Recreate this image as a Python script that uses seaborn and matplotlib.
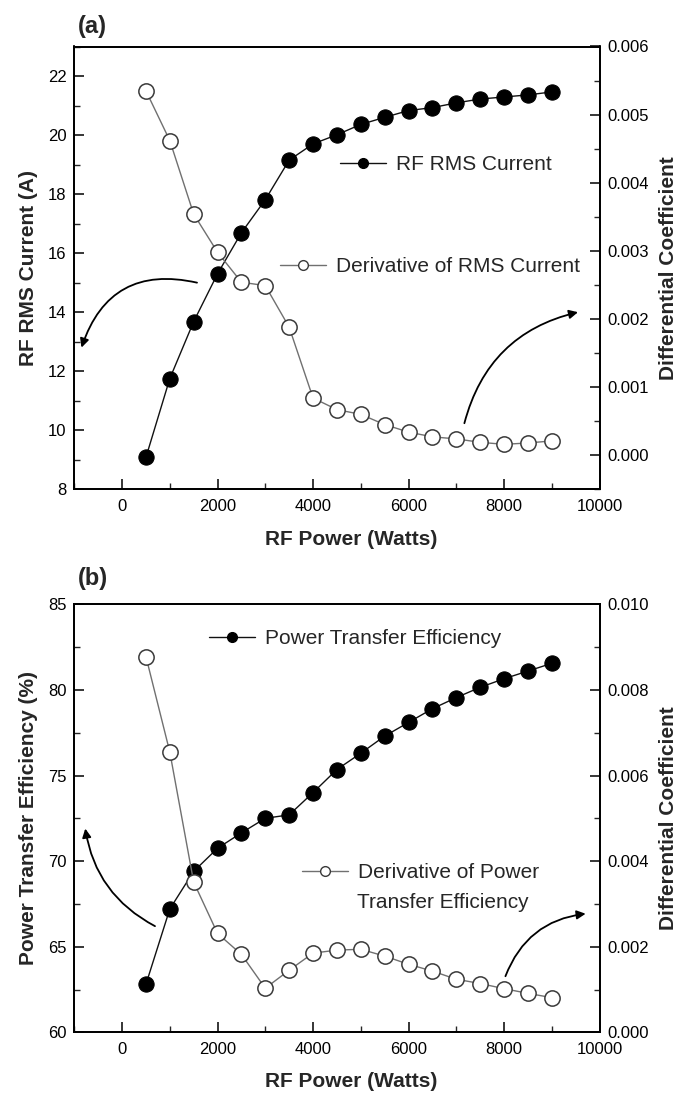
import matplotlib
matplotlib.use("Agg")
import matplotlib.pyplot as plt
from matplotlib.lines import Line2D
from matplotlib.ticker import MultipleLocator, FormatStrFormatter
import seaborn as sns

# ---------------- data ----------------
power = [500, 1000, 1500, 2000, 2500, 3000, 3500, 4000, 4500, 5000,
         5500, 6000, 6500, 7000, 7500, 8000, 8500, 9000]

rms_current = [9.08, 11.75, 13.68, 15.30, 16.69, 17.81, 19.15, 19.70, 20.01, 20.36,
               20.60, 20.83, 20.93, 21.09, 21.22, 21.29, 21.36, 21.46]
rms_derivative = [0.00535, 0.00462, 0.00354, 0.00298, 0.00254, 0.00249, 0.00188, 0.00084,
                  0.00067, 0.00060, 0.00045, 0.00034, 0.00027, 0.00024, 0.00019, 0.00016,
                  0.00018, 0.00021]

pte = [62.8, 67.2, 69.4, 70.75, 71.65, 72.5, 72.7, 74.0, 75.35, 76.3,
       77.3, 78.1, 78.9, 79.55, 80.15, 80.65, 81.1, 81.55]
pte_derivative = [0.00878, 0.00655, 0.00351, 0.00231, 0.00182, 0.00103, 0.00145, 0.00185,
                  0.00192, 0.00194, 0.00178, 0.00159, 0.00143, 0.00124, 0.00114, 0.00102,
                  0.00091, 0.00081]

# ---------------- style ----------------
sns.set_style("ticks")
plt.rcParams['font.family'] = ['Liberation Sans', 'DejaVu Sans']
plt.rcParams['xtick.direction'] = 'in'
plt.rcParams['ytick.direction'] = 'in'

TICK_FS = 12
LAB_FS = 15
LEG_FS = 15

fig = plt.figure(figsize=(6.93, 10.94), dpi=100)
W, H = 693.0, 1094.0


def axes_px(left, top, right, bottom):
    return fig.add_axes([left / W, 1 - bottom / H, (right - left) / W, (bottom - top) / H])


ax_a = axes_px(74.3, 46.5, 599.5, 489.3)
ax_b = axes_px(74.3, 604.3, 599.5, 1032.3)

filled_kw = dict(color='#111111', marker='o', markersize=11, markerfacecolor='black',
                 markeredgecolor='black', linewidth=1.0)
open_kw = dict(color='#707070', marker='o', markersize=11, markerfacecolor='white',
               markeredgecolor='#3a3a3a', markeredgewidth=1.1, linewidth=1.0)


def style_axes(ax, twin, ylim, ymaj, ymin, tylim, tymaj, tymin, ylabel):
    ax.set_xlim(-1000, 10000)
    ax.xaxis.set_major_locator(MultipleLocator(2000))
    ax.xaxis.set_minor_locator(MultipleLocator(1000))
    ax.set_ylim(*ylim)
    ax.yaxis.set_major_locator(MultipleLocator(ymaj))
    ax.yaxis.set_minor_locator(MultipleLocator(ymin))
    twin.set_ylim(*tylim)
    twin.yaxis.set_major_locator(MultipleLocator(tymaj))
    twin.yaxis.set_minor_locator(MultipleLocator(tymin))
    twin.yaxis.set_major_formatter(FormatStrFormatter('%.3f'))
    for a in (ax, twin):
        for s in a.spines.values():
            s.set_visible(True)
            s.set_linewidth(1.3)
            s.set_color('black')
        a.tick_params(which='major', length=7, width=1.1, labelsize=TICK_FS, colors='black')
        a.tick_params(which='minor', length=4, width=1.0)
    ax.tick_params(axis='x', top=False, which='both', pad=7)
    ax.tick_params(axis='y', right=False, which='both', pad=5.5)
    twin.tick_params(axis='y', left=False, right=True, which='both', pad=6)
    ax.set_xlabel('RF Power (Watts)', fontsize=LAB_FS, fontweight='bold')
    ax.set_ylabel(ylabel, fontsize=LAB_FS, fontweight='bold')
    twin.set_ylabel('Differential Coefficient', fontsize=LAB_FS, fontweight='bold')
    ax.xaxis.set_label_coords(0.527, -0.093)
    ax.yaxis.set_label_coords(-0.07, 0.5)
    twin.yaxis.set_label_coords(1.113, 0.5)


arrow_kw = dict(arrowstyle='-|>', color='black', lw=1.3, mutation_scale=13,
                shrinkA=0, shrinkB=0)

# ---------------- panel (a) ----------------
sns.lineplot(x=power, y=rms_current, ax=ax_a, **filled_kw)
tw_a = ax_a.twinx()
sns.lineplot(x=power, y=rms_derivative, ax=tw_a, **open_kw)
style_axes(ax_a, tw_a, (8, 23), 2, 1, (-0.0005, 0.006), 0.001, 0.0005,
           'RF RMS Current (A)')

ax_a.annotate('', xy=(-850, 12.8), xytext=(1570, 15.0),
              arrowprops=dict(connectionstyle='arc3,rad=0.45', **arrow_kw))
tw_a.annotate('', xy=(9550, 0.0021), xytext=(7170, 0.00047),
              arrowprops=dict(connectionstyle='arc3,rad=-0.3', **arrow_kw))

# ---------------- panel (b) ----------------
sns.lineplot(x=power, y=pte, ax=ax_b, **filled_kw)
tw_b = ax_b.twinx()
sns.lineplot(x=power, y=pte_derivative, ax=tw_b, **open_kw)
style_axes(ax_b, tw_b, (60, 85), 5, 2.5, (0.0, 0.010), 0.002, 0.001,
           'Power Transfer Efficiency (%)')

ax_b.annotate('', xy=(-770, 71.9), xytext=(690, 66.2),
              arrowprops=dict(connectionstyle='arc3,rad=-0.25', **arrow_kw))
tw_b.annotate('', xy=(9710, 0.00277), xytext=(8030, 0.00131),
              arrowprops=dict(connectionstyle='arc3,rad=-0.3', **arrow_kw))


# ---------------- legends ----------------
def add_legend(label, filled, x_px, y_px):
    if filled:
        h = Line2D([], [], color='#111111', lw=1.0, marker='o', markersize=7,
                   markerfacecolor='black', markeredgecolor='black')
    else:
        h = Line2D([], [], color='#707070', lw=1.0, marker='o', markersize=7,
                   markerfacecolor='white', markeredgecolor='#3a3a3a')
    return fig.legend(handles=[h], labels=[label], loc='center left',
                      bbox_to_anchor=(x_px / W, 1 - y_px / H), frameon=False,
                      fontsize=LEG_FS, handlelength=2.2, handletextpad=0.5,
                      borderpad=0, borderaxespad=0)


add_legend('RF RMS Current', True, 340, 165)
add_legend('Derivative of RMS Current', False, 280, 267)
add_legend('Power Transfer Efficiency', True, 209, 639)
add_legend('Derivative of Power', False, 302, 873)
fig.text(357 / W, 1 - 903 / H, 'Transfer Efficiency', fontsize=LEG_FS,
         ha='left', va='center')

# panel labels
fig.text(92.7 / W, 1 - 26 / H, '(a)', fontsize=17, fontweight='bold', ha='center', va='center')
fig.text(92.7 / W, 1 - 578 / H, '(b)', fontsize=17, fontweight='bold', ha='center', va='center')

fig.savefig('out.png', dpi=100)
